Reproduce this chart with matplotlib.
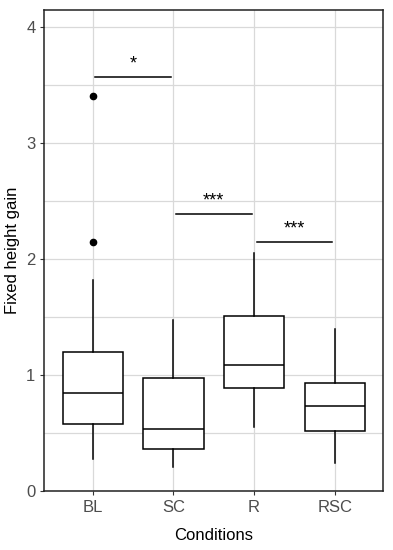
import matplotlib.pyplot as plt
from matplotlib.ticker import MultipleLocator

plt.rcParams['font.family'] = ['Liberation Sans', 'DejaVu Sans']

# box statistics
conditions = ["BL", "SC", "R", "RSC"]
whisker_low = [0.28, 0.21, 0.55, 0.24]
q1 = [0.58, 0.36, 0.89, 0.515]
median = [0.85, 0.54, 1.09, 0.73]
q3 = [1.20, 0.98, 1.51, 0.93]
whisker_high = [1.82, 1.48, 2.05, 1.40]
outliers = [[3.41, 2.15], [], [], []]

# significance brackets: (from, to, height, label)
sig_from = [1, 2, 3]
sig_to = [2, 3, 4]
sig_y = [3.57, 2.39, 2.15]
sig_label = ["*", "***", "***"]

stats = []
for i in range(len(conditions)):
    stats.append({"label": conditions[i], "whislo": whisker_low[i], "q1": q1[i],
                  "med": median[i], "q3": q3[i], "whishi": whisker_high[i],
                  "fliers": outliers[i]})

fig = plt.figure(figsize=(3.93, 5.5), dpi=100)
ax = fig.add_axes([0.113, 0.107, 0.862, 0.875])

pos = list(range(1, len(conditions) + 1))
ax.bxp(stats, positions=pos, widths=0.75, showcaps=False, patch_artist=True,
       boxprops=dict(facecolor="white", edgecolor="black", linewidth=1.1),
       medianprops=dict(color="black", linewidth=1.1),
       whiskerprops=dict(color="black", linewidth=1.1),
       flierprops=dict(marker="o", markerfacecolor="black", markeredgecolor="black",
                       markersize=4.5))

for a, b, y, lab in zip(sig_from, sig_to, sig_y, sig_label):
    ax.plot([a + 0.03, b - 0.03], [y, y], color="black", linewidth=1.1)
    ax.text((a + b) / 2, y + 0.04, lab, ha="center", va="bottom", fontsize=13)

ax.set_xlim(0.4, 4.6)
ax.set_ylim(0, 4.15)
ax.yaxis.set_major_locator(MultipleLocator(1))
ax.yaxis.set_minor_locator(MultipleLocator(0.5))
ax.grid(True, which="major", color="#d9d9d9", linewidth=0.9)
ax.grid(True, which="minor", axis="y", color="#d9d9d9", linewidth=0.9)
ax.set_axisbelow(True)
ax.tick_params(which="minor", length=0)
ax.tick_params(which="major", length=3, color="#333333", labelsize=12, labelcolor="#4d4d4d")
for s in ax.spines.values():
    s.set_color("#222222")
    s.set_linewidth(1.1)

ax.set_xlabel("Conditions", fontsize=12, labelpad=9)
ax.set_ylabel("Fixed height gain", fontsize=12)
ax.yaxis.set_label_coords(-0.072, 0.5)

plt.savefig("out.png", dpi=100)
